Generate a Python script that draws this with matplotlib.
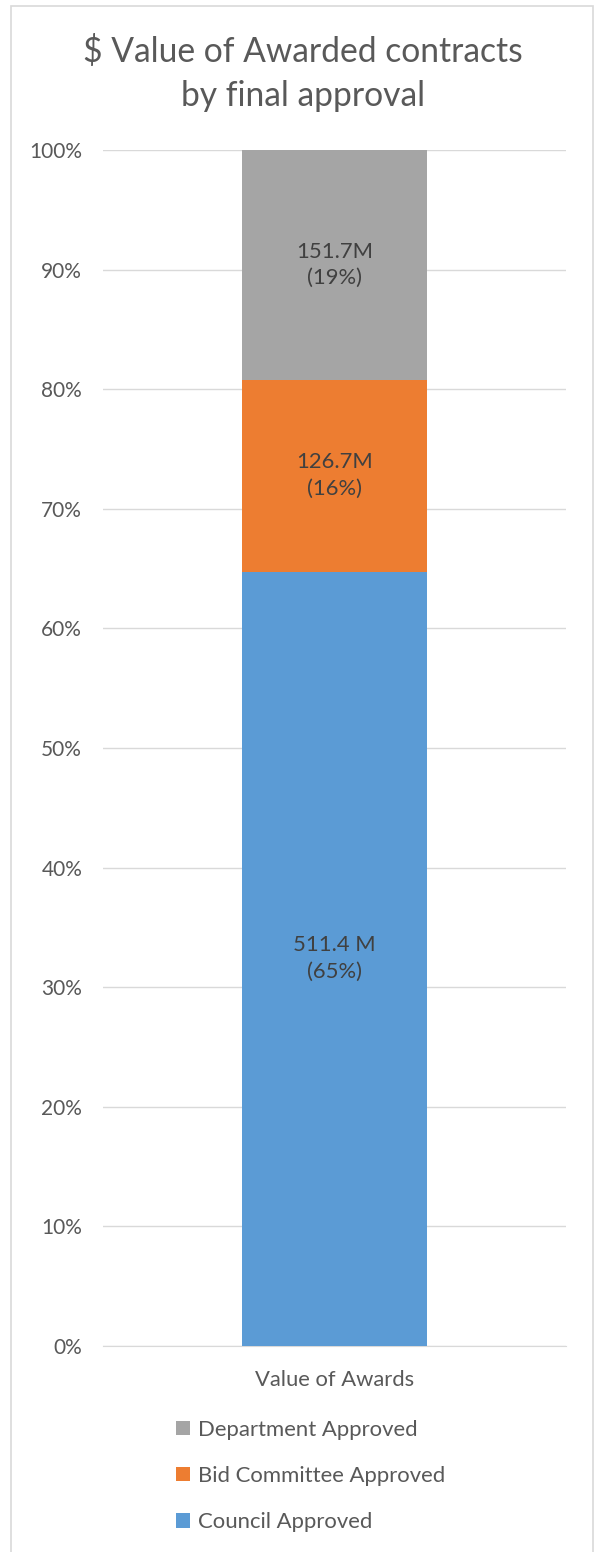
import matplotlib
matplotlib.use("Agg")
import matplotlib.pyplot as plt
from matplotlib.patches import Rectangle, Patch

categories = ["Value of Awards"]
series_names = ["Council Approved", "Bid Committee Approved", "Department Approved"]
values_m = [511.4, 126.7, 151.7]
value_labels = ["511.4 M\n(65%)", "126.7M\n(16%)", "151.7M\n(19%)"]
colors = ["#5B9BD5", "#ED7D31", "#A5A5A5"]
yticks = [0, 10, 20, 30, 40, 50, 60, 70, 80, 90, 100]

plt.rcParams['font.family'] = ['Lato', 'DejaVu Sans']

W, H = 595, 1552
fig = plt.figure(figsize=(W / 100, H / 100), dpi=100)

# chart border
fig.patches.append(Rectangle((11 / W, -0.01), (593 - 11) / W, 1 - 5.5 / H + 0.01,
                             transform=fig.transFigure, fill=False,
                             edgecolor="#D9D9D9", linewidth=1.2))

ax = fig.add_axes([103 / W, 1 - 1346 / H, (566 - 103) / W, (1346 - 150) / H])

total = sum(values_m)
pct = [v / total * 100 for v in values_m]
bottom = 0
handles = []
for name, p, lab, c in zip(series_names, pct, value_labels, colors):
    ax.bar(categories, [p], bottom=[bottom], width=0.4, color=c, zorder=3)
    ax.text(0, bottom + p / 2, lab, ha="center", va="center", fontsize=15.8,
            color="#404040", linespacing=1.42, zorder=4)
    bottom += p
    handles.append(Patch(facecolor=c, label=name))

ax.set_xlim(-0.5, 0.5)
ax.set_ylim(0, 100)
ax.set_yticks(yticks)
ax.set_yticklabels([f"{t}%" for t in yticks], fontsize=15, color="#595959")
ax.tick_params(axis="y", length=0, pad=15)
ax.tick_params(axis="x", length=0, pad=17.5, labelsize=15.8, labelcolor="#595959")
ax.grid(axis="y", color="#D9D9D9", linewidth=1, zorder=0)
for s in ["top", "right", "left"]:
    ax.spines[s].set_visible(False)
ax.spines["bottom"].set_color("#D9D9D9")

fig.text(302.7 / W, 1 - 61.5 / H, "$ Value of Awarded contracts", ha="center",
         va="baseline", fontsize=24.2, color="#595959")
fig.text(302.7 / W, 1 - 106 / H, "by final approval", ha="center",
         va="baseline", fontsize=24.2, color="#595959")

leg = fig.legend(handles=handles[::-1], loc="center left",
                 bbox_to_anchor=(156 / W, 1 - 1476 / H), frameon=False,
                 fontsize=15.9, labelcolor="#595959", handlelength=0.63,
                 handleheight=0.63, handletextpad=0.35, labelspacing=1.18)

fig.savefig("out.png", dpi=100)
